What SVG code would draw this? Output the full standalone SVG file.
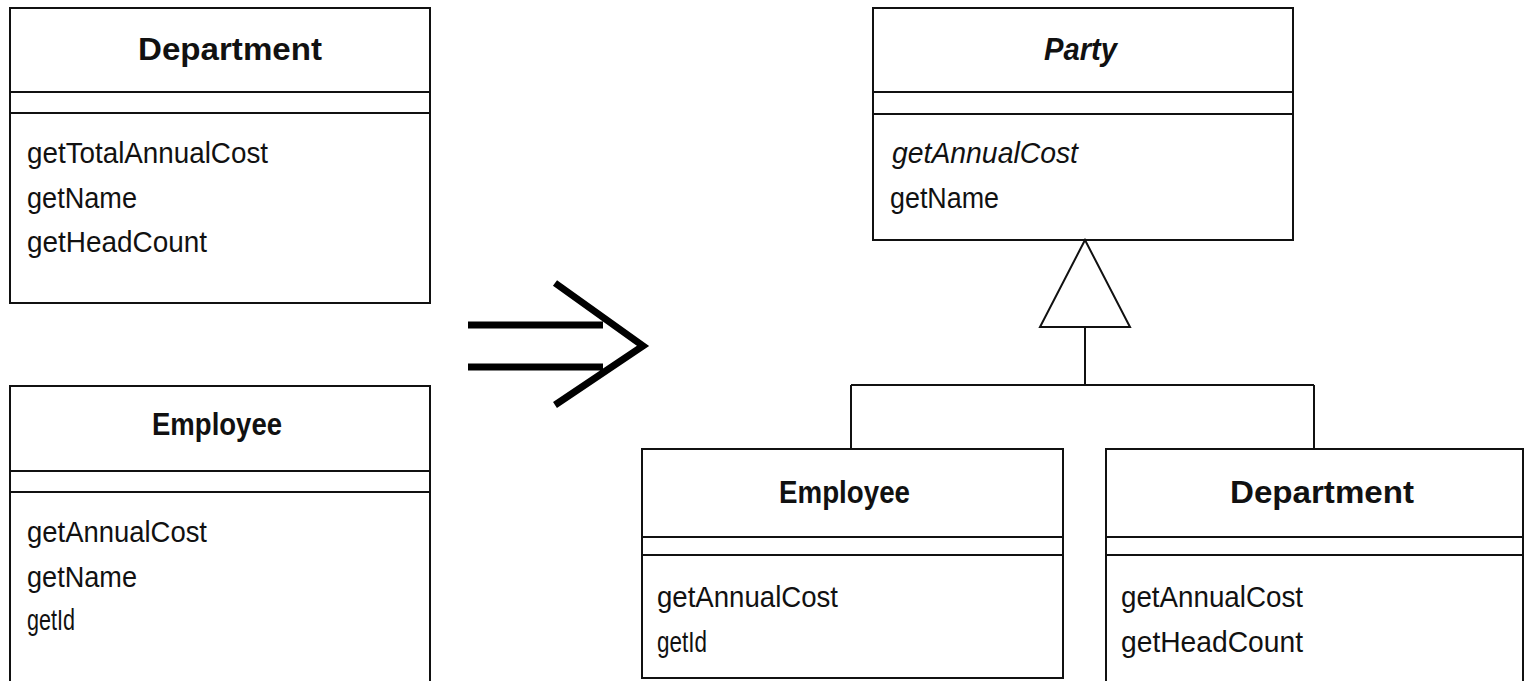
<svg xmlns="http://www.w3.org/2000/svg" width="1524" height="681" viewBox="0 0 1524 681">
<style>
.box{fill:#fff;stroke:#111;stroke-width:2}
.ln{stroke:#111;stroke-width:2;fill:none}
.t{font-family:"Liberation Sans",Arial,sans-serif;font-size:30px;fill:#111}
.h{font-family:"Liberation Sans",Arial,sans-serif;font-size:31px;font-weight:bold;fill:#111}
.i{font-style:italic}
</style>
<rect width="1524" height="681" fill="#fff"/>
<g id="left-department">
<rect class="box" x="10" y="8" width="420" height="295"/>
<line class="ln" x1="10" y1="92" x2="430" y2="92"/>
<line class="ln" x1="10" y1="113" x2="430" y2="113"/>
<text class="h" x="138" y="60" textLength="184" lengthAdjust="spacingAndGlyphs">Department</text>
<text class="t" x="27" y="163" textLength="241" lengthAdjust="spacingAndGlyphs">getTotalAnnualCost</text>
<text class="t" x="27" y="208" textLength="110" lengthAdjust="spacingAndGlyphs">getName</text>
<text class="t" x="27" y="252" textLength="180" lengthAdjust="spacingAndGlyphs">getHeadCount</text>
</g>
<g id="left-employee">
<rect class="box" x="10" y="386" width="420" height="310"/>
<line class="ln" x1="10" y1="471" x2="430" y2="471"/>
<line class="ln" x1="10" y1="492" x2="430" y2="492"/>
<text class="h" x="152" y="435" textLength="130" lengthAdjust="spacingAndGlyphs">Employee</text>
<text class="t" x="27" y="542" textLength="180" lengthAdjust="spacingAndGlyphs">getAnnualCost</text>
<text class="t" x="27" y="587" textLength="110" lengthAdjust="spacingAndGlyphs">getName</text>
<text class="t" x="27" y="630" textLength="48" lengthAdjust="spacingAndGlyphs">getId</text>
</g>
<g id="refactor-arrow">
<path d="M468 325H603M468 367H603M555 283L643 346L555 405" fill="none" stroke="#000" stroke-width="7" stroke-linejoin="miter"/>
</g>
<g id="party">
<rect class="box" x="873" y="8" width="420" height="232"/>
<line class="ln" x1="873" y1="92" x2="1293" y2="92"/>
<line class="ln" x1="873" y1="114" x2="1293" y2="114"/>
<text class="h i" x="1044" y="60" textLength="73" lengthAdjust="spacingAndGlyphs">Party</text>
<text class="t i" x="892" y="163" textLength="186" lengthAdjust="spacingAndGlyphs">getAnnualCost</text>
<text class="t" x="890" y="208" textLength="109" lengthAdjust="spacingAndGlyphs">getName</text>
</g>
<g id="right-employee">
<rect class="box" x="642" y="449" width="421" height="229"/>
<line class="ln" x1="642" y1="537" x2="1063" y2="537"/>
<line class="ln" x1="642" y1="555" x2="1063" y2="555"/>
<text class="h" x="779" y="503" textLength="131" lengthAdjust="spacingAndGlyphs">Employee</text>
<text class="t" x="657" y="607" textLength="181" lengthAdjust="spacingAndGlyphs">getAnnualCost</text>
<text class="t" x="657" y="652" textLength="50" lengthAdjust="spacingAndGlyphs">getId</text>
</g>
<g id="right-department">
<rect class="box" x="1106" y="449" width="417" height="240"/>
<line class="ln" x1="1106" y1="537" x2="1523" y2="537"/>
<line class="ln" x1="1106" y1="555" x2="1523" y2="555"/>
<text class="h" x="1230" y="503" textLength="184" lengthAdjust="spacingAndGlyphs">Department</text>
<text class="t" x="1121" y="607" textLength="182" lengthAdjust="spacingAndGlyphs">getAnnualCost</text>
<text class="t" x="1121" y="652" textLength="182" lengthAdjust="spacingAndGlyphs">getHeadCount</text>
</g>
<g id="connectors">
<path class="ln" d="M1085 240L1130 327H1040Z"/>
<path class="ln" d="M1085 327V385M851 385H1314M851 385V449M1314 385V449"/>
</g>
</svg>
